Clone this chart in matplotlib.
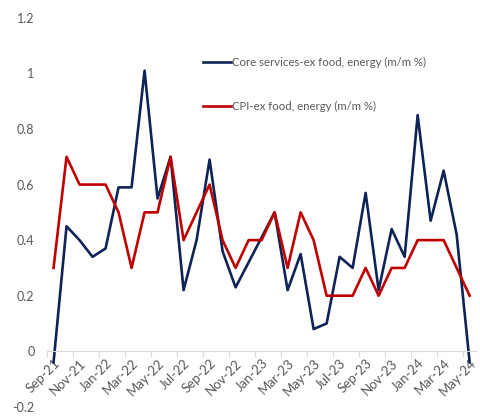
import numpy as np
import matplotlib.pyplot as plt
from matplotlib.ticker import FixedLocator, NullFormatter

plt.rcParams['font.family'] = ['Lato', 'DejaVu Sans']

months = ['Sep-21', 'Oct-21', 'Nov-21', 'Dec-21', 'Jan-22', 'Feb-22', 'Mar-22', 'Apr-22',
          'May-22', 'Jun-22', 'Jul-22', 'Aug-22', 'Sep-22', 'Oct-22', 'Nov-22', 'Dec-22',
          'Jan-23', 'Feb-23', 'Mar-23', 'Apr-23', 'May-23', 'Jun-23', 'Jul-23', 'Aug-23',
          'Sep-23', 'Oct-23', 'Nov-23', 'Dec-23', 'Jan-24', 'Feb-24', 'Mar-24', 'Apr-24',
          'May-24']

core_services = [-0.04, 0.45, 0.40, 0.34, 0.37, 0.59, 0.59, 1.01,
                 0.55, 0.70, 0.22, 0.40, 0.69, 0.36, 0.23, 0.32,
                 0.41, 0.50, 0.22, 0.35, 0.08, 0.10, 0.34, 0.30,
                 0.57, 0.22, 0.44, 0.34, 0.85, 0.47, 0.65, 0.42,
                 -0.04]

core_cpi = [0.3, 0.7, 0.6, 0.6, 0.6, 0.5, 0.3, 0.5,
            0.5, 0.7, 0.4, 0.5, 0.6, 0.4, 0.3, 0.4,
            0.4, 0.5, 0.3, 0.5, 0.4, 0.2, 0.2, 0.2,
            0.3, 0.2, 0.3, 0.3, 0.4, 0.4, 0.4, 0.3,
            0.2]

y_ticks = [-0.2, 0, 0.2, 0.4, 0.6, 0.8, 1, 1.2]
y_labels = ['-0.2', '0', '0.2', '0.4', '0.6', '0.8', '1', '1.2']

grey = '#595959'
x = np.arange(len(months))

fig = plt.figure(figsize=(4.8, 4.16), dpi=100)
ax = fig.add_axes([0.098, 0.022, 0.894, 0.935])

ax.plot(x, core_services, color='#0E2356', lw=1.9, label='Core services-ex food, energy (m/m %)')
ax.plot(x, core_cpi, color='#C00000', lw=1.9, label='CPI-ex food, energy (m/m %)')

ax.set_xlim(-0.5, len(months) - 0.5)
ax.set_ylim(-0.2, 1.2)

# y axis: labels only
ax.set_yticks(y_ticks)
ax.set_yticklabels(y_labels, color=grey, fontsize=9)
ax.tick_params(axis='y', length=0, pad=9)

# x axis sits on zero, tick marks between categories every 2 months
ax.spines['bottom'].set_position(('data', 0))
ax.spines['bottom'].set_color('#D9D9D9')
for s in ['left', 'right', 'top']:
    ax.spines[s].set_visible(False)

ax.xaxis.set_major_locator(FixedLocator(np.arange(-0.5, len(months), 2)))
ax.xaxis.set_major_formatter(NullFormatter())
ax.tick_params(axis='x', which='major', length=4, color='#D9D9D9')
ax.set_xticks(x[::2], minor=True)
ax.set_xticklabels(months[::2], minor=True, rotation=45, ha='right',
                   rotation_mode='anchor', color=grey, fontsize=9.5)
ax.tick_params(axis='x', which='minor', length=0, pad=4)

leg = ax.legend(loc='upper left', bbox_to_anchor=(0.34, 0.925), frameon=False,
                fontsize=8.2, handlelength=2.4, handletextpad=0.15, labelspacing=2.9,
                labelcolor=grey)

fig.savefig('out.png', dpi=100)
